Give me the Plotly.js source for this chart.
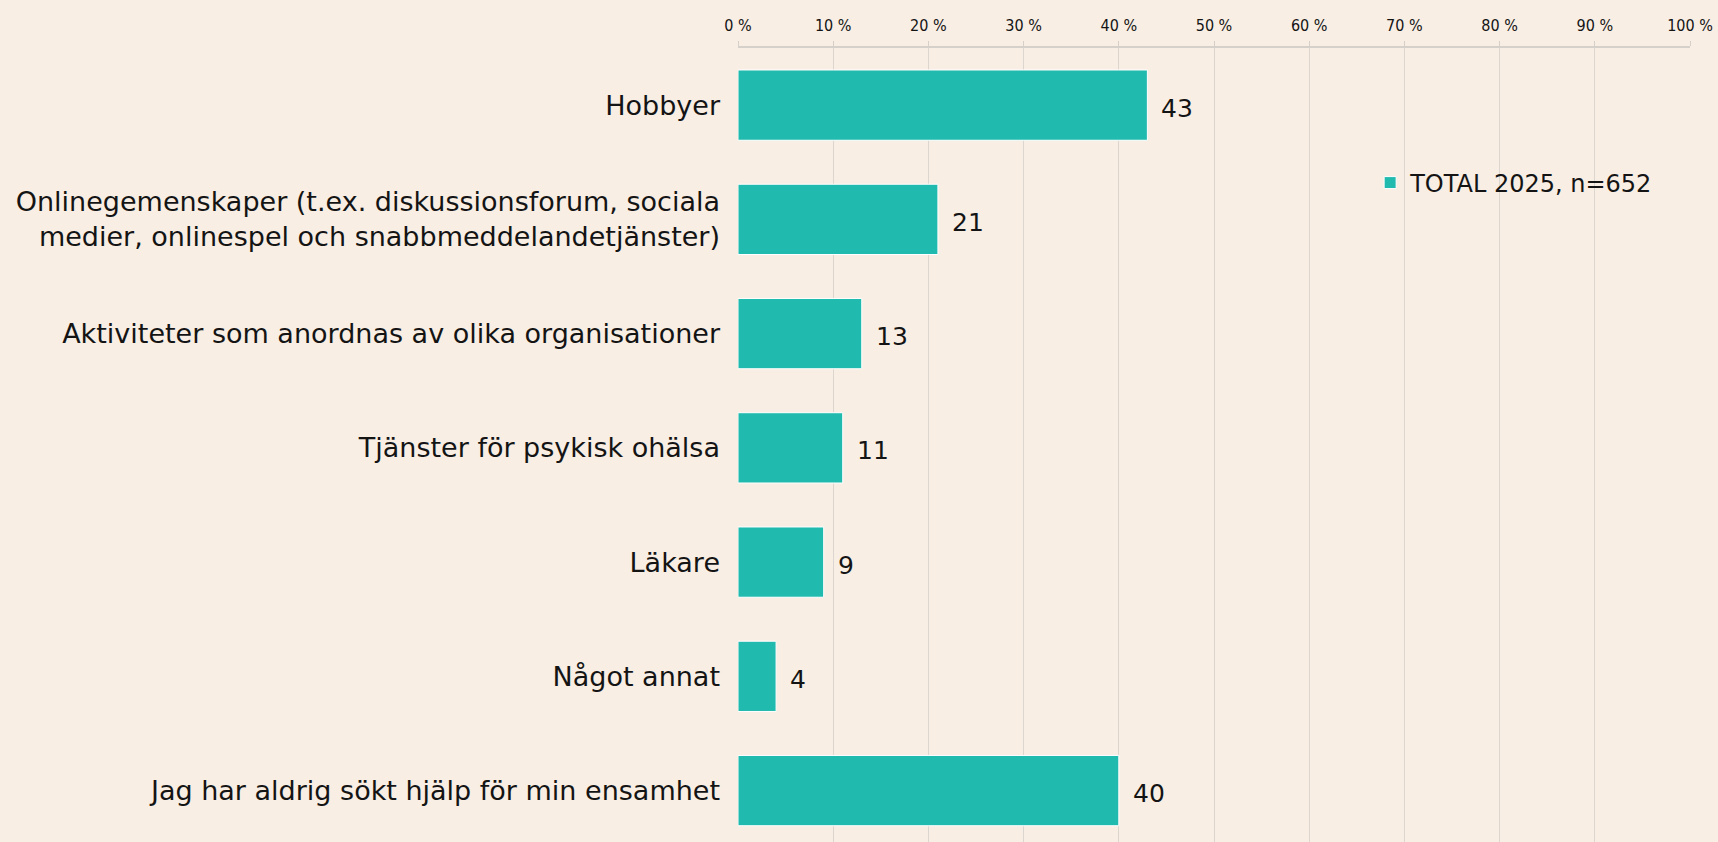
<!DOCTYPE html>
<html>
<head>
<meta charset="utf-8">
<script src="https://cdn.plot.ly/plotly-3.0.1.min.js"></script>
<style>html,body{margin:0;padding:0;background:#F8EEE4;}</style>
</head>
<body>
<div id="chart" style="width:1718px;height:842px;"></div>
<script>
const categories = [
  "Hobbyer",
  "Onlinegemenskaper (t.ex. diskussionsforum, sociala<br>medier, onlinespel och snabbmeddelandetjänster)",
  "Aktiviteter som anordnas av olika organisationer",
  "Tjänster för psykisk ohälsa",
  "Läkare",
  "Något annat",
  "Jag har aldrig sökt hjälp för min ensamhet"
];
const values = [43, 21, 13, 11, 9, 4, 40];
const seriesName = "TOTAL 2025, n=652";
const tickValues = [0,10,20,30,40,50,60,70,80,90,100];
const tickLabels = tickValues.map(v => v + " %");

const FONT = "'DejaVu Sans', sans-serif";
const TICKFONT = "'DejaVu Sans Condensed', 'DejaVu Sans', sans-serif";
const TEXT = "#141414";

const trace = {
  type: "bar",
  orientation: "h",
  x: values,
  y: categories,
  name: seriesName,
  marker: {color: "#21BAAE", line: {color: "#ffffff", width: 1}},
  hoverinfo: "none",
  showlegend: true
};

const annotations = values.map((v, i) => ({
  x: v, y: categories[i], xref: "x", yref: "y",
  text: String(v), showarrow: false, xanchor: "left", xshift: 12, yshift: -3,
  font: {family: FONT, size: 25, color: TEXT}
}));

const layout = {
  width: 1718, height: 842,
  paper_bgcolor: "#F8EEE4", plot_bgcolor: "#F8EEE4",
  margin: {l: 738, r: 28, t: 48, b: 0, pad: 0},
  bargap: 0.385,
  font: {family: FONT, color: TEXT},
  xaxis: {
    side: "top", range: [0, 100], tickvals: tickValues, ticktext: tickLabels,
    showgrid: true, gridcolor: "#dcd6d0", gridwidth: 1,
    showline: true, linecolor: "#d6d0ca", linewidth: 2,
    ticks: "outside", ticklen: 5, tickcolor: "#d6d0ca",
    ticklabelstandoff: 4,
    tickfont: {family: TICKFONT, size: 16, color: TEXT},
    zeroline: false, fixedrange: true
  },
  yaxis: {
    type: "category", range: [6.45, -0.5],
    showgrid: false, showline: false, ticks: "", zeroline: false,
    ticklabelstandoff: 17,
    tickfont: {family: FONT, size: 27, color: TEXT},
    fixedrange: true
  },
  legend: {
    x: 0.664, y: 0.83, xanchor: "left", yanchor: "middle",
    bgcolor: "rgba(0,0,0,0)", font: {family: FONT, size: 24, color: TEXT},
    itemwidth: 30
  },
  annotations: annotations
};

Plotly.newPlot("chart", [trace], layout, {displayModeBar: false, staticPlot: true});
</script>
</body>
</html>
